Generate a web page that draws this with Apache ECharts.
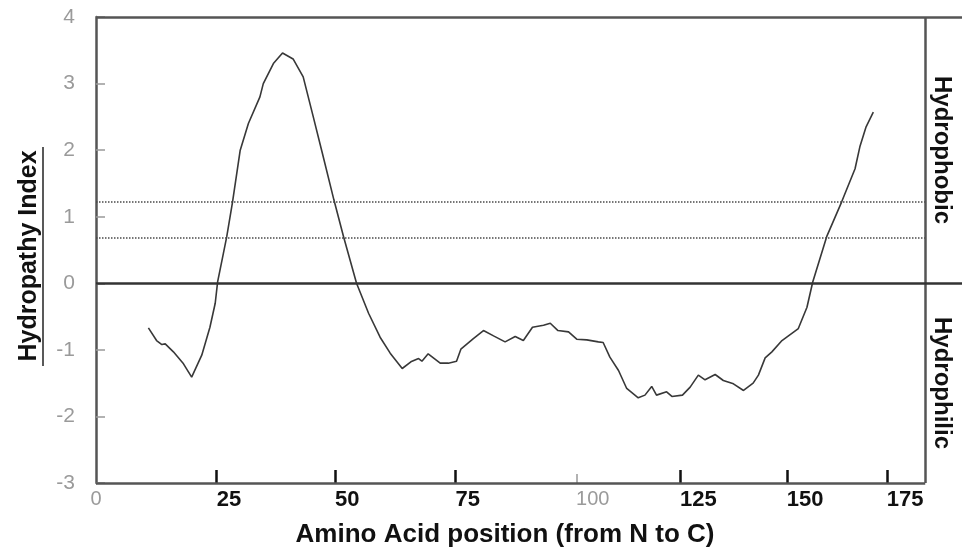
<!DOCTYPE html>
<html><head><meta charset="utf-8">
<script src="https://cdn.jsdelivr.net/npm/echarts@6/dist/echarts.min.js"></script>
<style>html,body{margin:0;padding:0;background:#fff}#c{width:962px;height:556px}</style>
</head><body><div id="c"></div>
<script>
// Amino acid position (axis units) and hydropathy index read from the profile
const positions = [10.9,12.6,13.7,14.4,16.1,18.2,19.9,22.0,23.7,24.8,25.3,26.5,27.2,28.4,30.0,31.7,34.1,34.8,36.9,38.8,41.0,43.1,45.2,47.0,49.5,51.5,54.2,56.7,59.1,61.2,63.7,65.5,67.1,67.8,69.1,71.6,73.3,75.0,75.9,78.5,80.6,82.7,85.1,87.2,88.9,90.8,93.1,94.5,96.1,98.3,100.0,102.1,104.5,105.5,106.9,108.7,110.4,112.8,114.2,115.6,116.6,118.7,119.8,122.0,123.6,125.3,126.7,128.8,130.5,132.6,134.7,136.7,137.8,139.2,140.6,142.7,144.4,146.1,147.9,149.1,152.0,155.1,157.9,158.9,160.2,161.7];
const hydropathy = [-0.67,-0.86,-0.92,-0.91,-1.03,-1.21,-1.41,-1.08,-0.66,-0.30,0.02,0.45,0.70,1.22,2.00,2.40,2.80,3.00,3.30,3.46,3.37,3.10,2.50,1.98,1.25,0.70,0.00,-0.45,-0.81,-1.05,-1.28,-1.18,-1.13,-1.17,-1.06,-1.20,-1.20,-1.17,-0.99,-0.83,-0.71,-0.79,-0.88,-0.80,-0.86,-0.66,-0.63,-0.60,-0.71,-0.73,-0.84,-0.85,-0.88,-0.89,-1.11,-1.31,-1.58,-1.72,-1.68,-1.55,-1.68,-1.63,-1.70,-1.68,-1.56,-1.38,-1.45,-1.37,-1.46,-1.51,-1.61,-1.50,-1.38,-1.12,-1.03,-0.86,-0.77,-0.68,-0.36,0.02,0.70,1.22,1.72,2.05,2.35,2.57];
const thresholdValues = [1.22, 0.69];
// hand-drawn bold ticks of the reference and their labels
const xTickValues = [25.1, 49.7, 74.8, 121.5, 143.7, 164.5];
const xTickLabels = ['25','50','75','125','150','175'];
// original (grey) axis labels
const xGrayLabelValues = [0, 100];
const xGrayLabels = ['0','100'];
const xGrayTickValues = [100];
const yTickLabels = ['-3','-2','-1','0','1','2','3','4'];
const sideLabels = ['Hydrophobic','Hydrophilic'];
const xTitle = 'Amino Acid position (from N to C)';
const yTitle = 'Hydropathy Index';
const plotEnd = 172.5;
const panelEnd = 180.15;

const FONT = "'Liberation Sans', Arial, Helvetica, sans-serif";
function nearestLabel(vals, labels, v){
  let bi = 0, bd = Infinity;
  vals.forEach((x,i)=>{ const d = Math.abs(x - v); if (d < bd){ bd = d; bi = i; } });
  return labels[bi];
}

const chart = echarts.init(document.getElementById('c'), null, {renderer:'canvas'});
const frame = {color:'#555', width:2.5, type:'solid'};
const dotted = {color:'#4a4a4a', width:1.5, type:[1.5,1.5]};
chart.setOption({
  animation:false,
  backgroundColor:'#fff',
  grid:{left:96, right:0, top:17, bottom:73, containLabel:false},
  xAxis:[{
    type:'value', min:0, max:panelEnd, position:'bottom',
    axisLine:{show:false, onZero:false}, splitLine:{show:false},
    axisTick:{show:true, inside:true, length:13, customValues:xTickValues, lineStyle:{color:'#111', width:2.5}},
    axisLabel:{show:true, customValues:xTickValues, align:'left', margin:6,
      formatter:v=>nearestLabel(xTickValues, xTickLabels, v),
      fontSize:22, fontWeight:'bold', color:'#111', fontFamily:FONT}
  },{
    type:'value', min:0, max:panelEnd, position:'bottom',
    axisLine:{show:false, onZero:false}, splitLine:{show:false},
    axisTick:{show:true, inside:true, length:9, customValues:xGrayTickValues, lineStyle:{color:'#999', width:1.5}},
    axisLabel:{show:true, customValues:xGrayLabelValues, align:'center', margin:6,
      formatter:v=>{ const t = nearestLabel(xGrayLabelValues, xGrayLabels, v); return t === '0' ? '{z|'+t+'}' : '{h|'+t+'}'; },
      rich:{
        z:{fontSize:20, color:'#9a9a9a', fontFamily:FONT},
        h:{fontSize:20, color:'#9a9a9a', fontFamily:FONT, padding:[0,0,0,32]}
      }}
  }],
  yAxis:{
    type:'value', min:-3, max:4, interval:1,
    axisLine:{show:true, onZero:false, lineStyle:{color:'#555', width:2.5}},
    axisTick:{show:true, inside:true, length:9, lineStyle:{color:'#999', width:1.5}},
    axisLabel:{color:'#9a9a9a', fontSize:21, margin:21, fontFamily:FONT,
      formatter:v=>yTickLabels[Math.round(v)+3]},
    splitLine:{show:false},
    name:yTitle, nameLocation:'middle', nameGap:54, nameRotate:90,
    nameTextStyle:{fontSize:25, fontWeight:'bold', color:'#111', fontFamily:FONT, padding:[0,12,0,0]}
  },
  series:[{
    type:'line',
    data:positions.map((x,i)=>[x, hydropathy[i]]),
    showSymbol:false, symbol:'none', smooth:false, clip:false,
    lineStyle:{color:'#383838', width:1.6},
    markLine:{
      silent:true, symbol:['none','none'], label:{show:false}, animation:false,
      data:[
        [{coord:[0,thresholdValues[0]], lineStyle:dotted},{coord:[plotEnd,thresholdValues[0]]}],
        [{coord:[0,thresholdValues[1]], lineStyle:dotted},{coord:[plotEnd,thresholdValues[1]]}],
        [{coord:[0,-3], lineStyle:frame},{coord:[plotEnd,-3]}],
        [{coord:[plotEnd,-3], lineStyle:frame},{coord:[plotEnd,4]}],
        [{coord:[0,4], lineStyle:frame},{coord:[panelEnd,4]}],
        [{coord:[0,0], lineStyle:{color:'#333', width:2.5, type:'solid'}},{coord:[panelEnd,0]}]
      ]
    }
  }],
  graphic:[
    {type:'line', shape:{x1:43, y1:147, x2:43, y2:366}, style:{stroke:'#222', lineWidth:1.5}},
    {type:'text', x:942, y:150, rotation:-Math.PI/2,
      style:{text:sideLabels[0], fill:'#111', font:"bold 24px "+FONT, align:'center', verticalAlign:'middle'}},
    {type:'text', x:942, y:383, rotation:-Math.PI/2,
      style:{text:sideLabels[1], fill:'#111', font:"bold 24px "+FONT, align:'center', verticalAlign:'middle'}},
    {type:'text', x:505, y:535,
      style:{text:xTitle, fill:'#111', font:"bold 26px "+FONT, align:'center', verticalAlign:'middle'}}
  ]
});
</script>
</body></html>
